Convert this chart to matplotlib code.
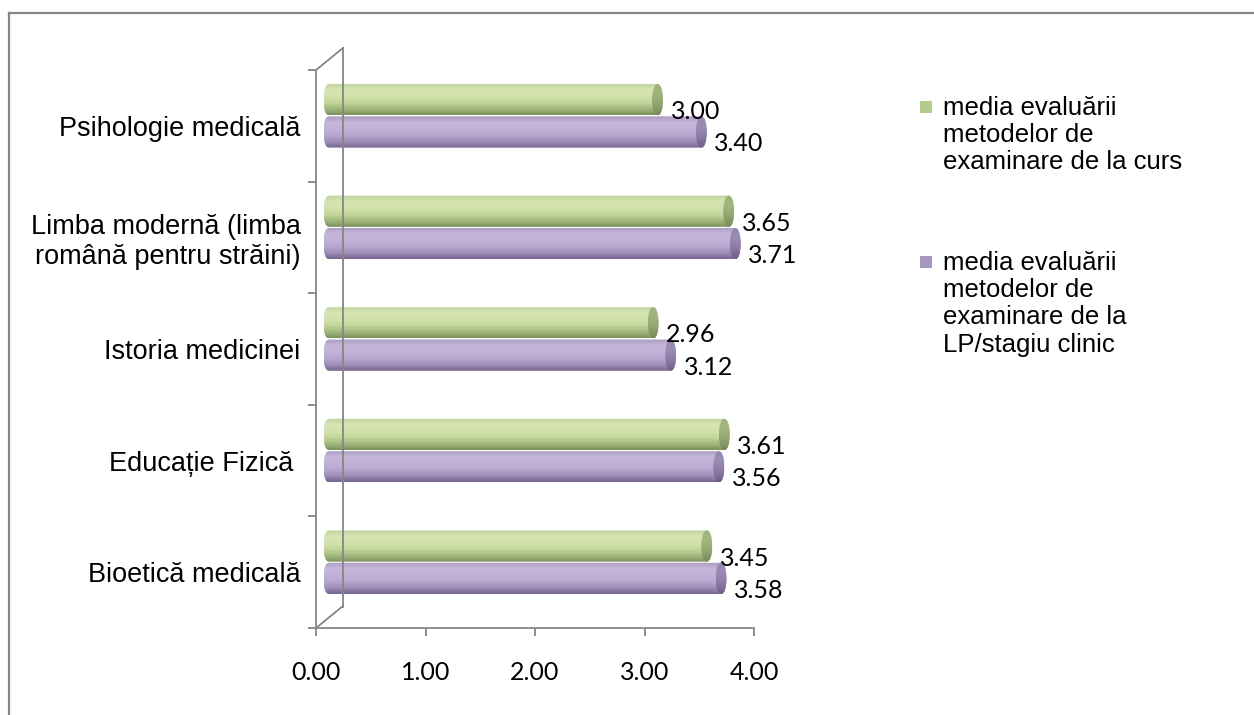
import numpy as np
import matplotlib.pyplot as plt
from matplotlib.patches import FancyBboxPatch, Ellipse, Rectangle
from matplotlib.lines import Line2D
from matplotlib.colors import to_rgb

# data (bottom -> top, as drawn)
categories = ["Bioetică medicală", "Educație Fizică ", "Istoria medicinei",
              "Limba modernă (limba\nromână pentru străini)", "Psihologie medicală"]
curs = [3.45, 3.61, 2.96, 3.65, 3.00]
lp = [3.58, 3.56, 3.12, 3.71, 3.40]
series_names = ["media evaluării\nmetodelor de\nexaminare de la curs",
                "media evaluării\nmetodelor de\nexaminare de la\nLP/stagiu clinic"]
xticks = [0, 1, 2, 3, 4]

W, H = 1254, 715
GRAY = "#868686"
NUMFONT = "Lato"
TXTFONT = "Liberation Sans"

# shading profiles, bottom -> top
green_prof = ["#7d925c", "#a3b97f", "#c4d79c", "#d2e2ad", "#d6e5b3", "#c2d39f"]
purple_prof = ["#76668f", "#9f8fb9", "#b8a7cf", "#c2b2d8", "#c6b7db", "#aa9bc0"]
green_cap = ["#76895a", "#8fa46e", "#a1b57f", "#9fb27d"]
purple_cap = ["#6e5f86", "#8a7aa4", "#9b8cb4", "#9889b0"]


def fx(x):
    return x / W


def fy(y):
    return 1 - y / H


def gradient(cols, n=64):
    rgb = np.array([to_rgb(c) for c in cols])
    pos = np.linspace(0, 1, len(cols))
    t = np.linspace(0, 1, n)
    arr = np.stack([np.interp(t, pos, rgb[:, i]) for i in range(3)], axis=1)
    return arr[:, None, :]


fig = plt.figure(figsize=(W / 100, H / 100), dpi=100)

# front axes (scale + ticks)
x0, x1, y0, y1 = 316, 754, 70, 628
ppu = (x1 - x0) / 4.0
ax = fig.add_axes([fx(x0), fy(y1), (x1 - x0) / W, (y1 - y0) / H])
ax.set_xlim(0, 4)
ax.set_ylim(-0.5, 4.5)
for s in ["top", "right"]:
    ax.spines[s].set_visible(False)
for s in ["left", "bottom"]:
    ax.spines[s].set_color(GRAY)
    ax.spines[s].set_linewidth(1.3)
ax.set_xticks(xticks)
ax.set_xticklabels([f"{v:.2f}" for v in xticks], fontsize=18, family=NUMFONT)
ax.tick_params(axis="x", length=6, width=1.3, color=GRAY, pad=18)
ax.set_yticks(range(len(categories)))
ax.set_yticklabels(categories, fontsize=19.5, family=TXTFONT)
ax.tick_params(axis="y", which="major", length=0, pad=11)
ax.set_yticks(np.arange(-0.5, 5, 1), minor=True)
ax.tick_params(axis="y", which="minor", length=6, width=1.3, color=GRAY)
ax.patch.set_alpha(0)

# back wall
dx, dy = 27, 22
fig.add_artist(Line2D([fx(x0 + dx)] * 2, [fy(y0 - dy), fy(y1 - dy + 1)], color=GRAY, lw=1.3))
fig.add_artist(Line2D([fx(x0), fx(x0 + dx)], [fy(y0), fy(y0 - dy)], color=GRAY, lw=1.3))
fig.add_artist(Line2D([fx(x0), fx(x0 + dx)], [fy(y1), fy(y1 - dy)], color=GRAY, lw=1.3))

# bars axes (mid depth of 3D box), with a little room left of zero
xpad = 0.2
bx0 = x0 + 13 - xpad * ppu
axb = fig.add_axes([fx(bx0), fy(y1 - 10), (x1 - x0 + xpad * ppu) / W, (y1 - y0) / H])
axb.axis("off")

h = 0.28
off = 0.145
capw = 0.1


def cylinder(v, yc, prof, cap):
    box = FancyBboxPatch((-capw / 2, yc - h / 2), v + capw, h,
                         boxstyle=f"round,pad=0,rounding_size={capw / 2}",
                         mutation_aspect=(h / 2) / (capw / 2),
                         facecolor="none", edgecolor="none")
    axb.add_patch(box)
    im = axb.imshow(gradient(prof), extent=[-capw / 2, v + capw / 2, yc - h / 2, yc + h / 2],
                    origin="lower", aspect="auto", interpolation="bilinear", zorder=2)
    im.set_clip_path(box)
    el = Ellipse((v, yc), capw, h, facecolor="none", edgecolor="none")
    axb.add_patch(el)
    imc = axb.imshow(gradient(cap), extent=[v - capw / 2, v + capw / 2, yc - h / 2, yc + h / 2],
                     origin="lower", aspect="auto", interpolation="bilinear", zorder=3)
    imc.set_clip_path(el)


for i in range(len(categories)):
    cylinder(curs[i], i + off, green_prof, green_cap)
    cylinder(lp[i], i - off, purple_prof, purple_cap)
    axb.annotate(f"{curs[i]:.2f}", (curs[i], i + off), xytext=(13, -12), textcoords="offset pixels",
                 ha="left", va="center", fontsize=18, family=NUMFONT, zorder=5)
    axb.annotate(f"{lp[i]:.2f}", (lp[i], i - off), xytext=(13, -12), textcoords="offset pixels",
                 ha="left", va="center", fontsize=18, family=NUMFONT, zorder=5)

axb.set_xlim(-xpad, 4)
axb.set_ylim(-0.5, 4.5)

# legend
leg_cols = ["#b3cb8c", "#a797c0"]
leg_y = [107, 262]
for c, yy, name in zip(leg_cols, leg_y, series_names):
    fig.add_artist(Rectangle((fx(920), fy(yy + 6)), 12 / W, 12 / H, facecolor=c, edgecolor="none"))
    fig.text(fx(943), fy(yy - 11), name, ha="left", va="top", fontsize=18.5, family=TXTFONT,
             linespacing=1.17)

# outer frame
fig.add_artist(Line2D([fx(9), fx(W)], [fy(13), fy(13)], color=GRAY, lw=1.6))
fig.add_artist(Line2D([fx(9), fx(9)], [fy(13), fy(H)], color=GRAY, lw=1.6))

fig.savefig("out.png", dpi=100)
